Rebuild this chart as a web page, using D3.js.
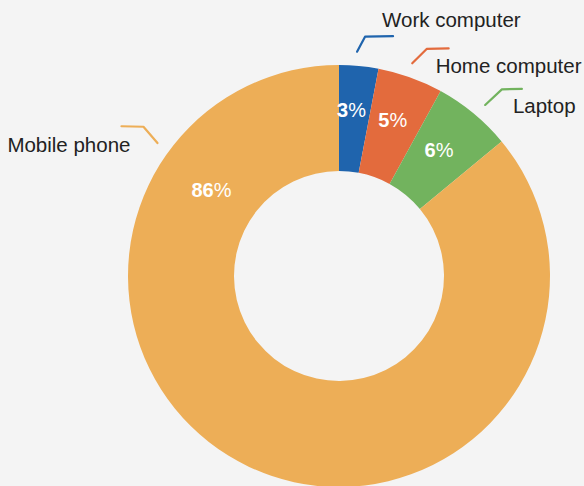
<!DOCTYPE html>
<html>
<head>
<meta charset="utf-8">
<script src="https://cdn.jsdelivr.net/npm/d3@7"></script>
<style>
  html, body { margin: 0; padding: 0; background: #f4f4f4; }
  svg { display: block; }
  text { font-family: "Liberation Sans", Arial, Helvetica, sans-serif; }
</style>
</head>
<body>
<svg id="chart" width="584" height="486"></svg>
<script>
// Device used to go online (share, %)
const categories = ["Work computer", "Home computer", "Laptop", "Mobile phone"];
const shares = [3, 5, 6, 86];
const colors = ["#1f64ad", "#e36b3d", "#72b35e", "#edae57"];

// Label layout per slice:
//  valShift/valR  - angle shift (rad) and radius of the in-slice value label
//  leadShift      - angle shift (rad) of the leader line start
//  elbow, tail    - leader line diagonal vector and horizontal tail length
//  tx/ty/anchor   - category text offset from the leader line end
const labelLayout = [
  { valShift: -0.019, valR: 166, leadShift: -0.014, elbow: [8, -15],    tail: 28, tx: -11, ty: -16, anchor: "start" },
  { valShift: -0.014, valR: 165, leadShift: -0.014, elbow: [14.4, -14.3], tail: 22, tx: -13, ty: 17,  anchor: "start" },
  { valShift: -0.021, valR: 161, leadShift: 0.016,  elbow: [16.7, -15.6], tail: 20, tx: -9,  ty: 17,  anchor: "start" },
  { valShift: 1.726,  valR: 154, leadShift: 1.763,  elbow: [-14, -16.3],  tail: 22, tx: 9,   ty: 19,  anchor: "end" }
];

const W = 584, H = 486;
const cx = 339, cy = 276;
const rOuter = 211, rInner = 105;

const svg = d3.select("#chart");
svg.append("rect").attr("width", W).attr("height", H).attr("fill", "#f4f4f4");

const g = svg.append("g").attr("transform", `translate(${cx},${cy})`);

const rows = categories.map((c, i) => ({ cat: c, value: shares[i], color: colors[i], layout: labelLayout[i] }));

const pie = d3.pie().value(d => d.value).sort(null).startAngle(0).endAngle(2 * Math.PI);
const arcs = pie(rows);

const arc = d3.arc().innerRadius(rInner).outerRadius(rOuter);

g.selectAll("path.slice")
  .data(arcs)
  .join("path")
  .attr("class", "slice")
  .attr("d", arc)
  .attr("fill", d => d.data.color);

// point at a given angle (0 = top, clockwise) and radius
const polar = (a, r) => [Math.sin(a) * r, -Math.cos(a) * r];
const midAngle = d => (d.startAngle + d.endAngle) / 2;

// value labels inside slices
const valPos = d => polar(midAngle(d) + d.data.layout.valShift, d.data.layout.valR);
const vl = g.selectAll("text.value")
  .data(arcs)
  .join("text")
  .attr("class", "value")
  .attr("x", d => valPos(d)[0])
  .attr("y", d => valPos(d)[1])
  .attr("text-anchor", "middle")
  .attr("dy", "0.35em")
  .attr("fill", "#ffffff")
  .attr("font-size", 20);
vl.append("tspan").attr("font-weight", "bold").text(d => d.data.value);
vl.append("tspan").text("%");

// leader lines: short diagonal out of the ring, then a horizontal tail
const leaderPoints = d => {
  const L = d.data.layout;
  const a = midAngle(d) + L.leadShift;
  const dir = Math.sin(a) >= 0 ? 1 : -1;
  const p0 = polar(a, 225);
  const p1 = [p0[0] + L.elbow[0], p0[1] + L.elbow[1]];
  const p2 = [p1[0] + dir * L.tail, p1[1] - 0.5];
  return [p0, p1, p2];
};

g.selectAll("path.leader")
  .data(arcs)
  .join("path")
  .attr("class", "leader")
  .attr("d", d => d3.line()(leaderPoints(d)))
  .attr("fill", "none")
  .attr("stroke", d => d.data.color)
  .attr("stroke-width", 2.2)
  .attr("stroke-linecap", "round")
  .attr("stroke-linejoin", "round");

// category labels
g.selectAll("text.cat")
  .data(arcs)
  .join("text")
  .attr("class", "cat")
  .attr("x", d => leaderPoints(d)[2][0] + d.data.layout.tx)
  .attr("y", d => leaderPoints(d)[2][1] + d.data.layout.ty)
  .attr("dy", "0.35em")
  .attr("text-anchor", d => d.data.layout.anchor)
  .attr("fill", "#222222")
  .attr("font-size", 20.5)
  .text(d => d.data.cat);
</script>
</body>
</html>
